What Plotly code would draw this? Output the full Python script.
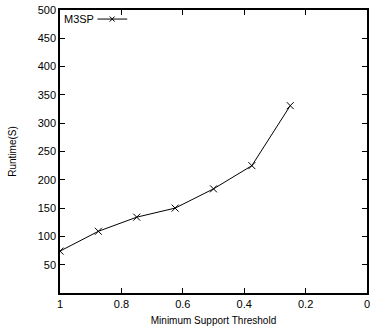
import plotly.graph_objects as go

support = [1.0, 0.875, 0.75, 0.625, 0.5, 0.375, 0.25]
runtime = [74, 109, 134, 150, 184, 225, 331]
series_name = "M3SP"
x_ticks = [1, 0.8, 0.6, 0.4, 0.2, 0]
x_tick_labels = ["1", "0.8", "0.6", "0.4", "0.2", "0"]
y_ticks = [50, 100, 150, 200, 250, 300, 350, 400, 450, 500]

FONT = "Liberation Sans, Arial, Helvetica, sans-serif"

fig = go.Figure()
fig.add_trace(go.Scatter(
    x=support, y=runtime, mode="lines+markers", name=series_name,
    line=dict(color="black", width=1),
    marker=dict(symbol="x-thin", size=7, line=dict(color="black", width=1), color="black"),
    showlegend=False,
))

axis_common = dict(
    showline=True, linecolor="black", linewidth=1.5, mirror="ticks",
    ticks="inside", ticklen=5, tickcolor="black", tickwidth=1,
    showgrid=False, zeroline=False, ticklabeloverflow="allow",
    tickfont=dict(family=FONT, size=11, color="black"),
)

fig.update_xaxes(range=[1, -1e-9], tickvals=x_ticks, ticktext=x_tick_labels,
                 title=dict(text="Minimum Support Threshold", font=dict(family=FONT, size=10, color="black"), standoff=8),
                 **axis_common)
fig.update_yaxes(range=[0, 500], tickvals=y_ticks,
                 title=dict(text="Runtime(S)", font=dict(family=FONT, size=10, color="black"), standoff=19),
                 **axis_common)

# custom legend (gnuplot style: label then sample)
fig.add_annotation(xref="paper", yref="paper", x=0.008, y=0.968, text=series_name,
                   showarrow=False, xanchor="left", yanchor="middle",
                   font=dict(family=FONT, size=11, color="black"))
fig.add_shape(type="line", xref="paper", yref="paper", x0=0.122, x1=0.219, y0=0.968, y1=0.968,
              line=dict(color="black", width=1))
cx, cy, dx, dy = 0.17, 0.968, 0.008, 0.009
fig.add_shape(type="line", xref="paper", yref="paper", x0=cx - dx, x1=cx + dx, y0=cy - dy, y1=cy + dy,
              line=dict(color="black", width=1))
fig.add_shape(type="line", xref="paper", yref="paper", x0=cx - dx, x1=cx + dx, y0=cy + dy, y1=cy - dy,
              line=dict(color="black", width=1))

fig.update_layout(
    width=373, height=330,
    margin=dict(l=60, r=3, t=10, b=37),
    paper_bgcolor="white", plot_bgcolor="white",
    font=dict(family=FONT, size=11, color="black"),
)

fig.write_html("out.html", config={"displayModeBar": False},
               post_script="document.body.style.margin='0';document.body.style.overflow='hidden';")
